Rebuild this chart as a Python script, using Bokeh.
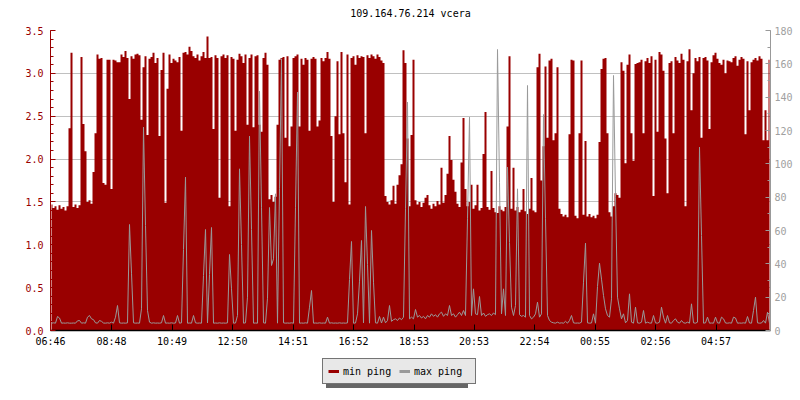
from bokeh.plotting import figure
from bokeh.layouts import column
from bokeh.models import (Range1d, LinearAxis, SingleIntervalTicker, FixedTicker,
                          PrintfTickFormatter, Legend, LegendItem, ColumnDataSource,
                          Label)
from bokeh.embed import file_html
from bokeh.resources import INLINE

title_text = "109.164.76.214 vcera"
start_time = "06:46"
sample_minutes = 4
tick_labels = ["06:46", "08:48", "10:49", "12:50", "14:51", "16:52",
               "18:53", "20:53", "22:54", "00:55", "02:56", "04:57"]
series_names = ["min ping", "max ping"]

# min ping (left axis, ms)
min_ping = [
    1.47, 1.43, 1.45, 1.41, 1.46, 1.42, 1.44, 1.40, 1.45, 2.36,
    3.24, 1.44, 1.47, 1.43, 1.46, 3.19, 2.41, 2.09, 1.50, 1.52,
    1.48, 1.85, 2.30, 3.22, 3.17, 3.18, 1.72, 1.70, 3.16, 3.16,
    1.65, 3.16, 3.15, 3.13, 3.13, 3.22, 3.19, 3.26, 3.18, 2.70,
    3.20, 3.17, 3.22, 3.23, 3.21, 2.46, 3.07, 3.20, 2.28, 3.17,
    3.19, 3.24, 3.12, 3.18, 2.27, 3.04, 3.24, 1.49, 2.82, 3.22,
    3.12, 3.17, 3.15, 3.13, 3.19, 2.33, 3.24, 3.25, 3.22, 3.31,
    3.26, 3.20, 3.18, 3.22, 3.15, 3.20, 3.25, 3.18, 3.43, 3.18,
    3.19, 2.35, 3.21, 3.18, 1.55, 3.20, 3.22, 3.18, 3.21, 1.45,
    3.19, 3.17, 2.33, 3.16, 3.23, 3.20, 3.12, 3.22, 2.40, 3.18,
    3.22, 2.37, 3.20, 3.21, 2.40, 2.32, 3.18, 3.24, 3.10, 1.53,
    1.58, 1.50, 1.56, 2.40, 3.16, 3.18, 3.19, 2.25, 3.20, 2.15,
    2.38, 3.18, 3.20, 3.22, 2.38, 3.17, 3.10, 3.18, 3.16, 2.33,
    3.17, 3.19, 3.17, 2.38, 2.45, 3.18, 3.14, 3.18, 3.25, 3.17,
    2.27, 1.50, 2.50, 3.14, 2.29, 3.25, 2.30, 1.73, 3.22, 1.47,
    3.18, 3.20, 3.10, 3.21, 3.18, 3.20, 3.19, 2.30, 3.21, 3.18,
    3.22, 3.20, 3.17, 3.22, 3.19, 3.15, 3.12, 1.57, 1.50, 1.47,
    1.52, 1.69, 1.48, 1.70, 1.81, 1.94, 3.27, 3.12, 2.24, 1.45,
    2.28, 3.16, 1.52, 1.47, 1.50, 1.44, 1.49, 1.55, 1.58, 1.46,
    1.42, 1.48, 1.45, 1.51, 1.47, 1.90, 1.49, 1.58, 1.83, 2.27,
    1.99, 1.76, 1.62, 1.48, 1.44, 1.96, 2.48, 1.65, 1.45, 1.50,
    1.70, 1.42, 1.46, 1.70, 1.40, 1.43, 2.06, 2.55, 1.44, 1.41,
    1.86, 1.43, 1.38, 1.37, 1.45, 1.41, 1.39, 1.44, 2.38, 3.20,
    1.42, 1.90, 1.40, 1.44, 1.38, 1.41, 1.65, 1.39, 1.36, 1.42,
    1.78, 1.40, 1.38, 3.07, 3.23, 1.75, 2.15, 3.08, 2.25, 3.15,
    3.17, 2.22, 2.30, 3.07, 1.42, 1.36, 1.33, 1.35, 1.32, 2.29,
    3.16, 3.15, 1.34, 1.31, 2.30, 3.15, 1.35, 2.21, 1.33, 1.36,
    1.32, 1.34, 1.31, 1.35, 2.20, 3.05, 3.17, 3.18, 2.30, 1.38,
    1.33, 1.45, 1.60, 1.58, 1.55, 3.13, 3.03, 1.95, 3.10, 3.22,
    2.30, 1.98, 3.11, 3.12, 3.13, 3.16, 2.30, 3.14, 3.18, 3.12,
    3.20, 1.57, 3.16, 2.32, 3.25, 3.22, 3.03, 2.24, 1.60, 3.12,
    3.14, 2.30, 3.19, 3.15, 3.12, 3.23, 3.16, 1.45, 3.14, 3.28,
    2.57, 3.00, 3.18, 3.14, 3.19, 2.25, 3.18, 3.19, 3.15, 2.35,
    3.13, 3.21, 3.24, 3.17, 3.12, 3.10, 3.16, 3.00, 3.15, 3.14,
    3.13, 3.18, 3.20, 3.09, 3.16, 3.19, 3.17, 2.29, 3.14, 2.57,
    3.13, 3.16, 3.18, 3.15, 3.20, 3.17, 2.22, 2.57, 2.22, 3.16,
]

# max ping (right axis, ms)
max_ping = [
    4.4, 4.6, 4.4, 8.4, 7.5, 4.4, 4.5, 4.4, 4.6, 4.4,
    4.4, 4.5, 4.4, 5.8, 6.0, 4.4, 4.6, 4.4, 8.0, 9.0,
    7.0, 6.5, 4.6, 4.4, 6.0, 5.5, 4.5, 4.4, 4.6, 4.4,
    5.0, 4.4, 8.0, 15.0, 4.6, 4.4, 4.5, 4.4, 4.6, 63.6,
    34.4, 4.6, 4.4, 4.5, 4.4, 13.0, 122.0, 63.0, 12.0, 5.0,
    4.4, 4.6, 4.4, 4.5, 4.4, 4.6, 9.0, 4.4, 4.5, 4.4,
    4.6, 4.4, 4.5, 9.0, 4.4, 4.6, 48.6, 92.0, 4.4, 4.5,
    4.4, 9.0, 4.6, 4.4, 4.5, 4.4, 33.0, 60.6, 4.6, 33.6,
    61.8, 4.4, 4.5, 4.4, 4.6, 4.4, 4.5, 4.4, 4.6, 45.6,
    25.0, 4.4, 4.5, 9.0, 97.0, 51.6, 4.4, 4.6, 20.0, 116.6,
    60.6, 4.4, 4.5, 4.4, 143.6, 74.0, 4.6, 4.4, 19.4, 73.8,
    39.0, 43.0, 82.0, 4.4, 85.0, 163.0, 4.6, 4.4, 4.5, 4.4,
    4.6, 4.4, 74.0, 143.0, 4.4, 4.5, 4.4, 4.6, 4.4, 14.0,
    24.0, 4.4, 4.5, 4.4, 4.6, 4.4, 4.5, 4.4, 8.0, 4.4,
    4.6, 4.4, 4.5, 4.4, 4.6, 4.4, 4.5, 4.4, 4.6, 30.6,
    53.4, 4.4, 4.5, 10.0, 29.6, 54.0, 4.6, 74.4, 39.6, 4.4,
    60.0, 29.0, 4.6, 4.4, 8.4, 4.5, 8.0, 4.6, 6.0, 15.0,
    5.5, 6.5, 7.0, 6.0, 7.5, 6.5, 8.0, 73.0, 137.0, 7.0,
    8.0, 7.0, 12.6, 8.0, 9.0, 7.5, 8.5, 7.0, 9.0, 8.0,
    10.0, 8.5, 9.5, 8.0, 10.0, 11.0, 8.5, 10.0, 9.0, 15.0,
    9.0, 10.0, 8.0, 9.5, 11.0, 9.0, 12.0, 9.0, 67.0, 128.0,
    9.0, 25.0, 10.0, 9.5, 20.4, 9.0, 10.5, 8.5, 9.5, 10.0,
    9.0, 10.5, 9.5, 168.6, 89.0, 10.0, 25.0, 9.0, 98.0, 52.8,
    14.0, 9.0, 15.0, 85.0, 9.5, 8.5, 9.0, 8.0, 147.0, 9.0,
    7.0, 8.0, 10.0, 17.0, 8.0, 10.0, 129.6, 67.0, 9.0, 6.0,
    5.0, 4.6, 4.4, 5.0, 4.4, 4.6, 4.4, 5.5, 4.4, 6.0,
    9.0, 4.6, 4.4, 4.5, 4.4, 5.0, 29.0, 52.4, 4.6, 4.4,
    4.5, 10.0, 4.4, 26.4, 40.4, 30.8, 21.0, 13.0, 9.0, 8.0,
    19.0, 153.0, 80.0, 20.0, 13.0, 7.0, 10.0, 4.6, 6.0, 22.0,
    5.0, 4.4, 14.0, 4.6, 4.4, 5.0, 12.0, 4.4, 5.0, 4.5,
    4.4, 9.0, 4.6, 4.4, 5.0, 14.0, 8.0, 4.4, 9.0, 4.6,
    4.4, 6.0, 7.0, 5.0, 4.4, 6.0, 4.6, 4.4, 5.0, 4.4,
    16.0, 4.6, 4.4, 5.0, 110.0, 57.0, 4.4, 4.6, 8.0, 4.4,
    4.5, 4.4, 8.0, 4.6, 4.4, 8.0, 7.0, 4.5, 4.4, 4.6,
    4.4, 8.0, 7.5, 4.4, 4.5, 4.4, 4.6, 4.4, 8.4, 4.5,
    4.4, 12.0, 20.0, 4.6, 4.4, 4.5, 6.0, 4.4, 11.0, 4.5,
]

RED = "#990000"
GRAY = "#999999"
FONT = "DejaVu Sans Mono"
FS = "10px"


def to_min(lbl):
    h, m = lbl.split(":")
    return int(h) * 60 + int(m)


t0 = to_min(start_time)
tick_pos = [(to_min(l) - t0) % 1440 for l in tick_labels]
t = [i * sample_minutes + sample_minutes / 2 for i in range(len(min_ping))]
src = ColumnDataSource(data=dict(t=t, mn=min_ping, mx=max_ping))


def strip(height):
    f = figure(width=800, height=height, output_backend="svg", toolbar_location=None,
               x_range=Range1d(0, 1440), y_range=Range1d(0, 180),
               x_axis_location=None, y_axis_location=None,
               min_border_left=0, min_border_right=0, min_border_top=0,
               min_border_bottom=0)
    f.outline_line_color = None
    f.grid.visible = False
    return f


# title strip
title_fig = strip(22)
title_fig.add_layout(Label(x=360, y=9, x_units="screen", y_units="screen",
                           text=title_text, text_align="center",
                           text_baseline="middle", text_font=FONT,
                           text_font_size=FS, text_color="black"))

fig = figure(width=800, height=328, output_backend="svg", toolbar_location=None,
             x_range=Range1d(0, 1440), y_range=Range1d(0, 3.5),
             min_border_left=50, min_border_right=30, min_border_top=8,
             min_border_bottom=20)
fig.extra_y_ranges = {"right": Range1d(0, 180)}
fig.outline_line_color = None
fig.background_fill_color = "white"
fig.border_fill_color = "white"

# left axis
ya = fig.yaxis[0]
ya.ticker = SingleIntervalTicker(interval=0.5, num_minor_ticks=5)
ya.formatter = PrintfTickFormatter(format="%.1f")
ya.axis_line_color = RED
ya.major_tick_line_color = RED
ya.minor_tick_line_color = RED
ya.major_tick_in = 5
ya.major_tick_out = 0
ya.minor_tick_in = 3
ya.minor_tick_out = 0
ya.major_label_text_color = RED
ya.major_label_text_font = FONT
ya.major_label_text_font_size = FS
ya.major_label_standoff = 7

# right axis
ra = LinearAxis(y_range_name="right",
                ticker=SingleIntervalTicker(interval=20, num_minor_ticks=2))
ra.axis_line_color = GRAY
ra.major_tick_line_color = GRAY
ra.minor_tick_line_color = GRAY
ra.major_tick_in = 5
ra.major_tick_out = 0
ra.minor_tick_in = 3
ra.minor_tick_out = 0
ra.major_label_text_color = "#a0a0a0"
ra.major_label_text_font = FONT
ra.major_label_text_font_size = FS
ra.major_label_standoff = 4
fig.add_layout(ra, "right")

# x axis
xa = fig.xaxis[0]
xa.ticker = FixedTicker(ticks=tick_pos, minor_ticks=[])
xa.major_label_overrides = {tp: lbl for tp, lbl in zip(tick_pos, tick_labels)}
xa.axis_line_color = "black"
xa.axis_line_width = 1.5
xa.major_tick_line_color = "black"
xa.major_tick_in = 6
xa.major_tick_out = 0
xa.minor_tick_line_color = None
xa.major_label_text_font = FONT
xa.major_label_text_font_size = FS
xa.major_label_text_color = "black"
xa.major_label_standoff = 5

fig.xgrid.visible = False
fig.ygrid.ticker = SingleIntervalTicker(interval=0.5)
fig.ygrid.grid_line_color = "#c0c0c0"
fig.ygrid.grid_line_width = 1

# data
fig.varea_step(x="t", y1=0, y2="mn", step_mode="center", source=src,
               fill_color=RED, fill_alpha=1)
fig.line(x="t", y="mx", source=src, y_range_name="right",
         line_color=GRAY, line_width=1)

# legend strip below the chart
lg_fig = strip(50)
leg_min = lg_fig.line(x="t", y="mn", source=src, line_color=RED, line_width=3,
                      visible=False)
leg_max = lg_fig.line(x="t", y="mx", source=src, line_color=GRAY, line_width=3,
                      visible=False)


def make_legend(labels, loc, bg, border, text_color):
    items = [LegendItem(label=labels[0], renderers=[leg_min]),
             LegendItem(label=labels[1], renderers=[leg_max])]
    return Legend(items=items, location=loc, orientation="horizontal",
                  padding=5, spacing=0, margin=0, glyph_width=11, glyph_height=14,
                  label_standoff=4, label_width=56, label_height=14,
                  label_text_font=FONT, label_text_font_size=FS,
                  label_text_color=text_color,
                  border_line_color=border, border_line_width=1,
                  background_fill_color=bg, background_fill_alpha=1,
                  inactive_fill_alpha=0, click_policy="none")


shadow = make_legend([" ", " "], (276, 12), "#666666", None, "#666666")
main = make_legend(series_names, (272, 16), "#e8e8e8", "black", "black")
lg_fig.add_layout(shadow, "center")
lg_fig.add_layout(main, "center")

p = column(title_fig, fig, lg_fig, spacing=0)

open("out.html", "w").write(file_html(p, INLINE))
